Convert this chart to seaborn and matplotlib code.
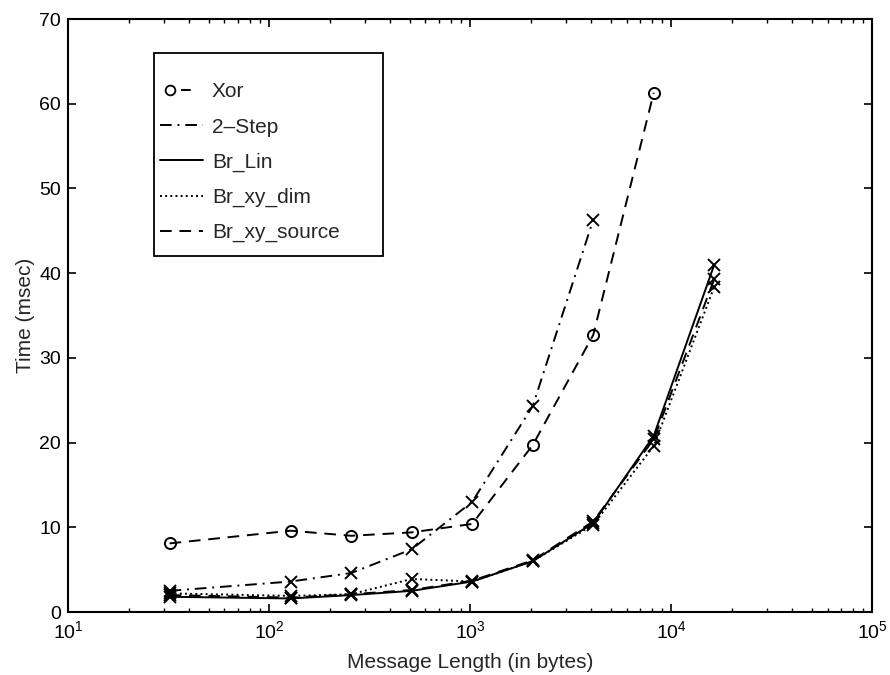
import matplotlib
matplotlib.use("Agg")
import matplotlib.pyplot as plt
import seaborn as sns
import numpy as np
from matplotlib.lines import Line2D
from matplotlib.patches import Rectangle
from matplotlib.legend_handler import HandlerTuple

# message lengths (bytes) and timings (msec)
msg_len = [32, 128, 256, 512, 1024, 2048, 4096, 8192, 16384]
xor_time = [8.1, 9.6, 9.0, 9.4, 10.4, 19.7, 32.7, 61.3]
two_step_time = [2.5, 3.6, 4.6, 7.4, 13.0, 24.3, 46.3]
br_lin_time = [1.8, 1.6, 2.0, 2.5, 3.6, 6.0, 10.5, 20.8, 41.0]
br_xy_dim_time = [2.2, 1.9, 2.1, 3.9, 3.6, 6.0, 10.3, 19.6, 38.4]
br_xy_source_time = [2.0, 1.7, 2.1, 2.6, 3.7, 6.1, 10.7, 20.4, 39.3]

sns.set_style("ticks")
plt.rcParams['font.family'] = ['Liberation Sans', 'DejaVu Sans']
plt.rcParams['font.size'] = 14

fig = plt.figure(figsize=(8.9, 6.75), dpi=100)
ax = fig.add_axes([0.0764, 0.0933, 0.9036, 0.8785])

dashdot = (0, (6, 3, 1, 3))
dashed = (0, (6, 4))
lw = 1.4

series = [
    (two_step_time, dashdot, 'x'),
    (br_lin_time, '-', 'x'),
    (br_xy_dim_time, ':', 'x'),
    (br_xy_source_time, dashed, 'x'),
    (xor_time, dashed, 'o'),
]
for vals, ls, mk in series:
    sns.lineplot(x=msg_len[:len(vals)], y=vals, ax=ax, color='k', linestyle=ls,
                 linewidth=lw, marker=mk, markersize=8, markeredgecolor='k',
                 markerfacecolor='none', markeredgewidth=1.4, legend=False)

ax.set_xscale('log')
ax.set_xlim(10, 1e5)
ax.set_ylim(0, 70)
ax.set_yticks(np.arange(0, 71, 10))
ax.tick_params(which='both', direction='in', top=True, right=True, colors='k')
ax.tick_params(which='major', length=6, width=1.2, labelsize=14)
ax.tick_params(which='minor', length=3, width=1.0)
ax.tick_params(axis='x', which='major', pad=6)
ax.tick_params(axis='y', which='major', pad=5)
for sp in ax.spines.values():
    sp.set_linewidth(1.5)
    sp.set_color('k')

ax.set_xlabel('Message Length (in bytes)', fontsize=15, labelpad=8)
ax.set_ylabel('Time (msec)', fontsize=15, labelpad=3)

# legend box drawn by hand, entries placed inside without their own frame
ax.add_patch(Rectangle((0.107, 0.600), 0.285, 0.343, transform=ax.transAxes,
                       fill=True, facecolor='white', edgecolor='k', linewidth=1.3,
                       zorder=4))

xor_handle = (Line2D([], [], color='k', linestyle='none', marker='o',
                     markerfacecolor='none', markeredgecolor='k', markersize=7,
                     markeredgewidth=1.3),
              Line2D([], [], color='k', linestyle=(0, (5, 20)), linewidth=lw))
handles = [
    xor_handle,
    Line2D([], [], color='k', linestyle=dashdot, linewidth=lw),
    Line2D([], [], color='k', linestyle='-', linewidth=lw),
    Line2D([], [], color='k', linestyle=':', linewidth=lw),
    Line2D([], [], color='k', linestyle=dashed, linewidth=lw),
]
labels = ['Xor', '2\u2013Step', 'Br_Lin', 'Br_xy_dim', 'Br_xy_source']
leg = ax.legend(handles, labels, loc='upper left', bbox_to_anchor=(0.114, 0.893),
                fontsize=15, handlelength=2.07, labelspacing=0.77, borderpad=0,
                borderaxespad=0, frameon=False, handletextpad=0.43,
                handler_map={tuple: HandlerTuple(ndivide=2, pad=0)})
leg.set_zorder(5)

fig.savefig('out.png', dpi=100)
